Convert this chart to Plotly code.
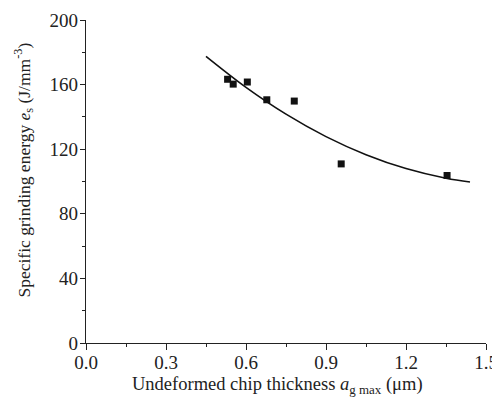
import plotly.graph_objects as go

# Measured data points
chip_thickness = [0.531, 0.552, 0.605, 0.678, 0.781, 0.957, 1.354]
grinding_energy = [163.3, 160.3, 161.6, 150.6, 149.8, 110.9, 103.7]

# Fitted curve
fit_x = [0.45, 0.60, 0.75, 0.90, 1.05, 1.20, 1.35, 1.44]
fit_y = [177.5, 158.3, 141.7, 127.8, 116.6, 108.0, 102.0, 99.7]

x_ticks = [0.0, 0.3, 0.6, 0.9, 1.2, 1.5]
x_tick_labels = ["0.0", "0.3", "0.6", "0.9", "1.2", "1.5"]
y_ticks = [0, 40, 80, 120, 160, 200]

x_title = "Undeformed chip thickness <i>a</i><sub>g max</sub> (μm)"
y_title = "Specific grinding energy <i>e</i><sub>s</sub> (J/mm<sup>-3</sup>)"

FONT = "Liberation Serif"
INK = "#222"

fig = go.Figure()
fig.add_trace(go.Scatter(x=fit_x, y=fit_y, mode="lines", line=dict(color="#111", width=1.6, shape="spline"),
                         showlegend=False, hoverinfo="skip"))
fig.add_trace(go.Scatter(x=chip_thickness, y=grinding_energy, mode="markers",
                         marker=dict(symbol="square", size=7, color="#111"), showlegend=False))

# page body has an 8px margin, so the figure is a little smaller than the window
fig.update_layout(
    width=492, height=391,
    margin=dict(l=78, r=14, t=12, b=56),
    paper_bgcolor="white", plot_bgcolor="white",
    font=dict(family=FONT, size=18, color=INK),
    xaxis=dict(range=[0, 1.5], tickvals=x_ticks, ticktext=x_tick_labels, automargin=False,
               showline=True, linecolor=INK, linewidth=1.3, ticks="outside", ticklen=6, tickwidth=1.3,
               tickcolor=INK, showgrid=False, zeroline=False, tickfont=dict(family=FONT, size=19),
               ticklabelstandoff=-4,
               minor=dict(tickvals=[0.15, 0.45, 0.75, 1.05, 1.35], ticks="outside", ticklen=3, tickwidth=1.3, tickcolor=INK)),
    yaxis=dict(range=[0, 200], tickvals=y_ticks, automargin=False,
               showline=True, linecolor=INK, linewidth=1.3, ticks="outside", ticklen=5, tickwidth=1.3,
               tickcolor=INK, showgrid=False, zeroline=False, tickfont=dict(family=FONT, size=19),
               ticklabelstandoff=-2,
               minor=dict(tickvals=[20, 60, 100, 140, 180], ticks="outside", ticklen=3, tickwidth=1.3, tickcolor=INK)),
    annotations=[
        dict(text=x_title, xref="paper", yref="paper", x=0.479, y=-0.133, xanchor="center", yanchor="middle",
             showarrow=False, font=dict(family=FONT, size=18.5, color=INK)),
        dict(text=y_title, xref="paper", yref="paper", x=-0.155, y=0.534, xanchor="center", yanchor="middle",
             textangle=-90, showarrow=False, font=dict(family=FONT, size=17.5, color=INK)),
    ],
)

fig.write_html("out.html")
